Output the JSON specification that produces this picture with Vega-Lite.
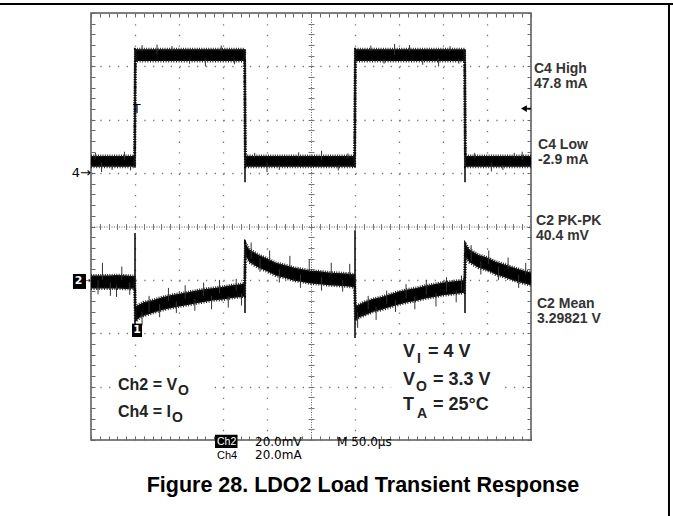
{
  "$schema": "https://vega.github.io/schema/vega-lite/v6.json",
  "width": 440,
  "height": 427,
  "autosize": {"type": "none"},
  "padding": {"left": 91, "top": 13, "right": 142, "bottom": 76},
  "background": "white",
  "config": {"view": {"stroke": "#555", "strokeWidth": 1.5}},
  "datasets": {
    "trace": [
      {"t":0,"i_lo":1.12,"i_hi":1.32,"v_lo":-1.16,"v_hi":-0.92},
      {"t":10,"i_lo":1.12,"i_hi":1.32,"v_lo":-1.16,"v_hi":-0.92},
      {"t":20,"i_lo":1.12,"i_hi":1.32,"v_lo":-1.16,"v_hi":-0.92},
      {"t":30,"i_lo":1.12,"i_hi":1.32,"v_lo":-1.16,"v_hi":-0.91},
      {"t":40,"i_lo":1.12,"i_hi":1.32,"v_lo":-1.17,"v_hi":-0.92},
      {"t":49.5,"i_lo":1.12,"i_hi":1.32,"v_lo":-1.16,"v_hi":-0.93},
      {"t":50.5,"i_lo":3.10,"i_hi":3.32,"v_lo":-1.78,"v_hi":-1.50},
      {"t":55,"i_lo":3.10,"i_hi":3.32,"v_lo":-1.71,"v_hi":-1.46},
      {"t":60,"i_lo":3.10,"i_hi":3.32,"v_lo":-1.67,"v_hi":-1.42},
      {"t":70,"i_lo":3.10,"i_hi":3.32,"v_lo":-1.62,"v_hi":-1.38},
      {"t":80,"i_lo":3.10,"i_hi":3.32,"v_lo":-1.57,"v_hi":-1.33},
      {"t":90,"i_lo":3.10,"i_hi":3.32,"v_lo":-1.53,"v_hi":-1.29},
      {"t":100,"i_lo":3.10,"i_hi":3.32,"v_lo":-1.50,"v_hi":-1.26},
      {"t":110,"i_lo":3.10,"i_hi":3.32,"v_lo":-1.47,"v_hi":-1.23},
      {"t":120,"i_lo":3.10,"i_hi":3.32,"v_lo":-1.44,"v_hi":-1.20},
      {"t":130,"i_lo":3.10,"i_hi":3.32,"v_lo":-1.41,"v_hi":-1.17},
      {"t":140,"i_lo":3.10,"i_hi":3.32,"v_lo":-1.38,"v_hi":-1.15},
      {"t":150,"i_lo":3.10,"i_hi":3.32,"v_lo":-1.37,"v_hi":-1.13},
      {"t":160,"i_lo":3.10,"i_hi":3.32,"v_lo":-1.34,"v_hi":-1.10},
      {"t":170,"i_lo":3.10,"i_hi":3.32,"v_lo":-1.32,"v_hi":-1.08},
      {"t":174.5,"i_lo":3.10,"i_hi":3.32,"v_lo":-1.31,"v_hi":-1.07},
      {"t":175.5,"i_lo":1.12,"i_hi":1.32,"v_lo":-0.54,"v_hi":-0.32},
      {"t":180,"i_lo":1.12,"i_hi":1.32,"v_lo":-0.67,"v_hi":-0.43},
      {"t":190,"i_lo":1.12,"i_hi":1.32,"v_lo":-0.77,"v_hi":-0.53},
      {"t":200,"i_lo":1.12,"i_hi":1.32,"v_lo":-0.84,"v_hi":-0.60},
      {"t":210,"i_lo":1.12,"i_hi":1.32,"v_lo":-0.92,"v_hi":-0.68},
      {"t":220,"i_lo":1.12,"i_hi":1.32,"v_lo":-0.96,"v_hi":-0.72},
      {"t":230,"i_lo":1.12,"i_hi":1.32,"v_lo":-1.01,"v_hi":-0.77},
      {"t":240,"i_lo":1.12,"i_hi":1.32,"v_lo":-1.04,"v_hi":-0.80},
      {"t":250,"i_lo":1.12,"i_hi":1.32,"v_lo":-1.07,"v_hi":-0.83},
      {"t":260,"i_lo":1.12,"i_hi":1.32,"v_lo":-1.08,"v_hi":-0.84},
      {"t":270,"i_lo":1.12,"i_hi":1.32,"v_lo":-1.10,"v_hi":-0.86},
      {"t":280,"i_lo":1.12,"i_hi":1.32,"v_lo":-1.11,"v_hi":-0.87},
      {"t":290,"i_lo":1.12,"i_hi":1.32,"v_lo":-1.12,"v_hi":-0.88},
      {"t":299.5,"i_lo":1.12,"i_hi":1.32,"v_lo":-1.14,"v_hi":-0.90},
      {"t":300.5,"i_lo":3.10,"i_hi":3.32,"v_lo":-1.76,"v_hi":-1.49},
      {"t":305,"i_lo":3.10,"i_hi":3.32,"v_lo":-1.70,"v_hi":-1.46},
      {"t":310,"i_lo":3.10,"i_hi":3.32,"v_lo":-1.67,"v_hi":-1.42},
      {"t":320,"i_lo":3.10,"i_hi":3.32,"v_lo":-1.60,"v_hi":-1.36},
      {"t":330,"i_lo":3.10,"i_hi":3.32,"v_lo":-1.56,"v_hi":-1.32},
      {"t":340,"i_lo":3.10,"i_hi":3.32,"v_lo":-1.51,"v_hi":-1.27},
      {"t":350,"i_lo":3.10,"i_hi":3.32,"v_lo":-1.46,"v_hi":-1.22},
      {"t":360,"i_lo":3.10,"i_hi":3.32,"v_lo":-1.42,"v_hi":-1.18},
      {"t":370,"i_lo":3.10,"i_hi":3.32,"v_lo":-1.39,"v_hi":-1.15},
      {"t":380,"i_lo":3.10,"i_hi":3.32,"v_lo":-1.35,"v_hi":-1.11},
      {"t":390,"i_lo":3.10,"i_hi":3.32,"v_lo":-1.32,"v_hi":-1.08},
      {"t":400,"i_lo":3.10,"i_hi":3.32,"v_lo":-1.29,"v_hi":-1.05},
      {"t":410,"i_lo":3.10,"i_hi":3.32,"v_lo":-1.27,"v_hi":-1.03},
      {"t":420,"i_lo":3.10,"i_hi":3.32,"v_lo":-1.25,"v_hi":-1.01},
      {"t":424.5,"i_lo":3.10,"i_hi":3.32,"v_lo":-1.24,"v_hi":-1.00},
      {"t":425.5,"i_lo":1.12,"i_hi":1.32,"v_lo":-0.56,"v_hi":-0.33},
      {"t":430,"i_lo":1.12,"i_hi":1.32,"v_lo":-0.67,"v_hi":-0.43},
      {"t":440,"i_lo":1.12,"i_hi":1.32,"v_lo":-0.77,"v_hi":-0.53},
      {"t":450,"i_lo":1.12,"i_hi":1.32,"v_lo":-0.82,"v_hi":-0.58},
      {"t":460,"i_lo":1.12,"i_hi":1.32,"v_lo":-0.90,"v_hi":-0.66},
      {"t":470,"i_lo":1.12,"i_hi":1.32,"v_lo":-0.95,"v_hi":-0.71},
      {"t":480,"i_lo":1.12,"i_hi":1.32,"v_lo":-1.01,"v_hi":-0.77},
      {"t":490,"i_lo":1.12,"i_hi":1.32,"v_lo":-1.06,"v_hi":-0.82},
      {"t":500,"i_lo":1.12,"i_hi":1.32,"v_lo":-1.10,"v_hi":-0.86}
    ],
    "edges": [
      {"t":50,"lo":1.10,"hi":3.34},{"t":175,"lo":0.83,"hi":3.32},{"t":300,"lo":1.10,"hi":3.33},{"t":425,"lo":0.83,"hi":3.32},
      {"t":50,"lo":-2.03,"hi":-0.12},{"t":175,"lo":-1.62,"hi":-0.25},{"t":300,"lo":-2.09,"hi":-0.07},{"t":425,"lo":-1.62,"hi":-0.33}
    ],
    "spikes": [
      {"t":8,"lo":-1.27,"hi":-1.0},{"t":13,"lo":-1.0,"hi":-0.68},{"t":22,"lo":-1.30,"hi":-1.05},{"t":29,"lo":-1.32,"hi":-1.1},{"t":35,"lo":-1.0,"hi":-0.75},{"t":44,"lo":-1.28,"hi":-1.05},
      {"t":58,"lo":-1.85,"hi":-1.6},{"t":66,"lo":-1.6,"hi":-1.3},{"t":78,"lo":-1.70,"hi":-1.45},{"t":88,"lo":-1.4,"hi":-1.15},{"t":97,"lo":-1.62,"hi":-1.40},{"t":107,"lo":-1.35,"hi":-1.10},{"t":118,"lo":-1.58,"hi":-1.35},{"t":128,"lo":-1.3,"hi":-1.05},{"t":137,"lo":-1.55,"hi":-1.30},{"t":146,"lo":-1.25,"hi":-1.0},{"t":156,"lo":-1.52,"hi":-1.3},{"t":165,"lo":-1.2,"hi":-0.98},{"t":171,"lo":-1.48,"hi":-1.25},
      {"t":182,"lo":-0.6,"hi":-0.3},{"t":192,"lo":-0.85,"hi":-0.6},{"t":203,"lo":-0.65,"hi":-0.45},{"t":214,"lo":-1.05,"hi":-0.8},{"t":226,"lo":-0.75,"hi":-0.55},{"t":238,"lo":-1.15,"hi":-0.9},{"t":248,"lo":-0.85,"hi":-0.62},{"t":262,"lo":-1.2,"hi":-0.95},{"t":273,"lo":-0.9,"hi":-0.68},{"t":286,"lo":-1.22,"hi":-1.0},{"t":294,"lo":-0.92,"hi":-0.7},
      {"t":303,"lo":-1.9,"hi":-1.6},{"t":315,"lo":-1.55,"hi":-1.3},{"t":324,"lo":-1.75,"hi":-1.5},{"t":336,"lo":-1.45,"hi":-1.2},{"t":346,"lo":-1.6,"hi":-1.38},{"t":358,"lo":-1.35,"hi":-1.08},{"t":368,"lo":-1.55,"hi":-1.3},{"t":381,"lo":-1.28,"hi":-1.0},{"t":392,"lo":-1.5,"hi":-1.25},{"t":404,"lo":-1.22,"hi":-0.95},{"t":415,"lo":-1.42,"hi":-1.2},{"t":421,"lo":-1.2,"hi":-0.92},
      {"t":432,"lo":-0.65,"hi":-0.35},{"t":443,"lo":-0.9,"hi":-0.65},{"t":452,"lo":-0.7,"hi":-0.45},{"t":463,"lo":-1.0,"hi":-0.75},{"t":474,"lo":-0.8,"hi":-0.58},{"t":486,"lo":-1.15,"hi":-0.9},{"t":494,"lo":-0.9,"hi":-0.68},
      {"t":12,"lo":1.02,"hi":1.2},{"t":38,"lo":1.25,"hi":1.40},{"t":75,"lo":3.22,"hi":3.41},{"t":130,"lo":3.0,"hi":3.15},{"t":200,"lo":1.02,"hi":1.2},{"t":262,"lo":1.25,"hi":1.42},{"t":345,"lo":3.22,"hi":3.42},{"t":395,"lo":3.0,"hi":3.15},{"t":455,"lo":1.03,"hi":1.2},{"t":490,"lo":1.25,"hi":1.40},
      {"t":58,"lo":3.28,"hi":3.40},{"t":92,"lo":3.28,"hi":3.38},{"t":112,"lo":3.05,"hi":3.14},{"t":148,"lo":3.28,"hi":3.39},{"t":163,"lo":3.04,"hi":3.13},{"t":318,"lo":3.28,"hi":3.39},{"t":333,"lo":3.05,"hi":3.13},{"t":362,"lo":3.28,"hi":3.40},{"t":377,"lo":3.03,"hi":3.13},{"t":408,"lo":3.28,"hi":3.38},{"t":418,"lo":3.05,"hi":3.13},
      {"t":5,"lo":1.28,"hi":1.38},{"t":24,"lo":1.06,"hi":1.15},{"t":45,"lo":1.05,"hi":1.15},{"t":186,"lo":1.28,"hi":1.38},{"t":214,"lo":1.06,"hi":1.15},{"t":236,"lo":1.28,"hi":1.39},{"t":281,"lo":1.05,"hi":1.14},{"t":292,"lo":1.28,"hi":1.37},{"t":436,"lo":1.28,"hi":1.38},{"t":468,"lo":1.06,"hi":1.15},{"t":481,"lo":1.28,"hi":1.38}
    ],
    "whiteBoxes": [
      {"t":24,"t2":137.5,"v":-2.72,"v2":-3.85},
      {"t":341,"t2":465,"v":-2.1,"v2":-3.85}
    ],
    "blackBoxes": [
      {"t":-20.5,"t2":-5.7,"v":-0.89,"v2":-1.17},
      {"t":46.6,"t2":58,"v":-1.82,"v2":-2.07},
      {"t":140.9,"t2":166.5,"v":-3.90,"v2":-4.15}
    ],
    "frame": [
      {"t":-104,"t2":662,"v":4.169,"v2":4.169},
      {"t":656.8,"t2":656.8,"v":4.169,"v2":-5.43}
    ],
    "notes": [
      {"t":503.4,"v":2.881,"label":"C4 High"},{"t":503.4,"v":2.589,"label":"47.8 mA"},
      {"t":508,"v":1.452,"label":"C4 Low"},{"t":508,"v":1.171,"label":"-2.9 mA"},
      {"t":505.7,"v":0.028,"label":"C2 PK-PK"},{"t":505.7,"v":-0.253,"label":"40.4 mV"},
      {"t":506.8,"v":-1.527,"label":"C2 Mean"},{"t":506.8,"v":-1.808,"label":"3.29821 V"}
    ],
    "leftBig": [
      {"t":30.7,"v":-3.063,"label":"Ch2 = V"},{"t":30.7,"v":-3.569,"label":"Ch4 = I"}
    ],
    "leftSub": [
      {"t":99,"v":-3.157,"label":"O"},{"t":92,"v":-3.663,"label":"O"}
    ],
    "rightBig": [
      {"t":354.5,"v":-2.445,"label":"V"},{"t":383,"v":-2.445,"label":"= 4 V"},
      {"t":354.5,"v":-2.97,"label":"V"},{"t":388.6,"v":-2.97,"label":"= 3.3 V"},
      {"t":354.5,"v":-3.438,"label":"T"},{"t":388.6,"v":-3.438,"label":"= 25°C"}
    ],
    "rightSub": [
      {"t":370.5,"v":-2.557,"label":"I"},{"t":369.3,"v":-3.082,"label":"O"},{"t":370.5,"v":-3.588,"label":"A"}
    ],
    "scopeVals": [
      {"t":186.4,"v":-4.11,"label":"20.0mV"},{"t":279.5,"v":-4.11,"label":"M 50.0µs"},{"t":186.4,"v":-4.356,"label":"20.0mA"}
    ],
    "title": [
      {"t":309,"v":-4.974,"label":"Figure 28. LDO2 Load Transient Response"}
    ]
  },
  "layer": [
    {
      "data": {"name": "whiteBoxes"},
      "mark": {"type": "rect", "color": "white"},
      "encoding": {
        "x": {"field": "t", "type": "quantitative", "scale": {"domain": [0, 500], "nice": false, "zero": false},
              "axis": {"orient": "bottom", "values": [0,10,20,30,40,50,60,70,80,90,100,110,120,130,140,150,160,170,180,190,200,210,220,230,240,250,260,270,280,290,300,310,320,330,340,350,360,370,380,390,400,410,420,430,440,450,460,470,480,490,500], "tickSize": -4, "tickColor": "#666", "labels": false, "domain": false, "grid": false, "title": null}},
        "x2": {"field": "t2"},
        "y": {"field": "v", "type": "quantitative", "scale": {"domain": [-4, 4], "nice": false, "zero": false},
              "axis": {"orient": "left", "values": [-4,-3.8,-3.6,-3.4,-3.2,-3,-2.8,-2.6,-2.4,-2.2,-2,-1.8,-1.6,-1.4,-1.2,-1,-0.8,-0.6,-0.4,-0.2,0,0.2,0.4,0.6,0.8,1,1.2,1.4,1.6,1.8,2,2.2,2.4,2.6,2.8,3,3.2,3.4,3.6,3.8,4], "tickSize": -4, "tickColor": "#666", "labels": false, "domain": false, "grid": false, "title": null}},
        "y2": {"field": "v2"}
      }
    },
    {
      "data": {"name": "trace"},
      "mark": {"type": "area", "color": "black", "opacity": 1},
      "encoding": {
        "x": {"field": "t", "type": "quantitative", "scale": {"domain": [0, 500], "nice": false, "zero": false},
              "axis": {"orient": "bottom", "values": [50,100,150,200,300,350,400,450], "ticks": false, "labels": false, "domain": false, "grid": true, "gridColor": "#777", "gridWidth": 1.3, "gridDash": [1.3, 9.375], "title": null}},
        "y": {"field": "i_hi", "type": "quantitative", "scale": {"domain": [-4, 4], "nice": false, "zero": false},
              "axis": {"orient": "left", "values": [-3,-2,-1,1,2,3], "ticks": false, "labels": false, "domain": false, "grid": true, "gridColor": "#777", "gridWidth": 1.3, "gridDash": [1.3, 7.5], "title": null}},
        "y2": {"field": "i_lo"}
      }
    },
    {
      "data": {"name": "trace"},
      "mark": {"type": "area", "color": "black", "opacity": 1},
      "encoding": {
        "x": {"field": "t", "type": "quantitative", "scale": {"domain": [0, 500], "nice": false, "zero": false},
              "axis": {"orient": "top", "values": [0,10,20,30,40,50,60,70,80,90,100,110,120,130,140,150,160,170,180,190,200,210,220,230,240,250,260,270,280,290,300,310,320,330,340,350,360,370,380,390,400,410,420,430,440,450,460,470,480,490,500], "tickSize": -4, "tickColor": "#666", "labels": false, "domain": false, "grid": false, "title": null}},
        "y": {"field": "v_hi", "type": "quantitative", "scale": {"domain": [-4, 4], "nice": false, "zero": false},
              "axis": {"orient": "right", "values": [-4,-3.8,-3.6,-3.4,-3.2,-3,-2.8,-2.6,-2.4,-2.2,-2,-1.8,-1.6,-1.4,-1.2,-1,-0.8,-0.6,-0.4,-0.2,0,0.2,0.4,0.6,0.8,1,1.2,1.4,1.6,1.8,2,2.2,2.4,2.6,2.8,3,3.2,3.4,3.6,3.8,4], "tickSize": -4, "tickColor": "#666", "labels": false, "domain": false, "grid": false, "title": null}},
        "y2": {"field": "v_lo"}
      }
    },
    {
      "data": {"name": "trace"},
      "mark": {"type": "line", "color": "#222", "strokeWidth": 3, "strokeDash": [1, 1.3]},
      "encoding": {
        "x": {"field": "t", "type": "quantitative", "scale": {"domain": [0, 500], "nice": false, "zero": false}, "axis": null},
        "y": {"field": "i_hi", "type": "quantitative", "scale": {"domain": [-4, 4], "nice": false, "zero": false}, "axis": null}
      }
    },
    {
      "data": {"name": "trace"},
      "mark": {"type": "line", "color": "#222", "strokeWidth": 3, "strokeDash": [1, 1.6]},
      "encoding": {
        "x": {"field": "t", "type": "quantitative", "scale": {"domain": [0, 500], "nice": false, "zero": false}, "axis": null},
        "y": {"field": "i_lo", "type": "quantitative", "scale": {"domain": [-4, 4], "nice": false, "zero": false}, "axis": null}
      }
    },
    {
      "data": {"name": "trace"},
      "mark": {"type": "line", "color": "#222", "strokeWidth": 3, "strokeDash": [1, 1.3]},
      "encoding": {
        "x": {"field": "t", "type": "quantitative", "scale": {"domain": [0, 500], "nice": false, "zero": false}, "axis": null},
        "y": {"field": "v_hi", "type": "quantitative", "scale": {"domain": [-4, 4], "nice": false, "zero": false}, "axis": null}
      }
    },
    {
      "data": {"name": "trace"},
      "mark": {"type": "line", "color": "#222", "strokeWidth": 3, "strokeDash": [1, 1.6]},
      "encoding": {
        "x": {"field": "t", "type": "quantitative", "scale": {"domain": [0, 500], "nice": false, "zero": false}, "axis": null},
        "y": {"field": "v_lo", "type": "quantitative", "scale": {"domain": [-4, 4], "nice": false, "zero": false}, "axis": null}
      }
    },
    {
      "data": {"name": "spikes"},
      "mark": {"type": "rule", "color": "#333", "strokeWidth": 1},
      "encoding": {
        "x": {"field": "t", "type": "quantitative", "scale": {"domain": [0, 500], "nice": false, "zero": false},
              "axis": {"orient": "bottom", "offset": -213.5, "values": [0,10,20,30,40,50,60,70,80,90,100,110,120,130,140,150,160,170,180,190,200,210,220,230,240,250,260,270,280,290,300,310,320,330,340,350,360,370,380,390,400,410,420,430,440,450,460,470,480,490,500], "tickSize": 3, "tickColor": "#777", "labels": false, "domain": true, "domainColor": "#666", "domainDash": [1, 1.5], "domainWidth": 1, "grid": false, "title": null}},
        "y": {"field": "lo", "type": "quantitative", "scale": {"domain": [-4, 4], "nice": false, "zero": false},
              "axis": {"orient": "left", "offset": -220, "values": [-4,-3.8,-3.6,-3.4,-3.2,-3,-2.8,-2.6,-2.4,-2.2,-2,-1.8,-1.6,-1.4,-1.2,-1,-0.8,-0.6,-0.4,-0.2,0,0.2,0.4,0.6,0.8,1,1.2,1.4,1.6,1.8,2,2.2,2.4,2.6,2.8,3,3.2,3.4,3.6,3.8,4], "tickSize": 3, "tickColor": "#777", "labels": false, "domain": true, "domainColor": "#666", "domainDash": [1, 1.5], "domainWidth": 1, "grid": false, "title": null}},
        "y2": {"field": "hi"}
      }
    },
    {
      "data": {"name": "edges"},
      "mark": {"type": "rule", "color": "black", "strokeWidth": 1.5},
      "encoding": {
        "x": {"field": "t", "type": "quantitative", "scale": {"domain": [0, 500], "nice": false, "zero": false},
              "axis": {"orient": "top", "offset": -213.5, "values": [0,10,20,30,40,50,60,70,80,90,100,110,120,130,140,150,160,170,180,190,200,210,220,230,240,250,260,270,280,290,300,310,320,330,340,350,360,370,380,390,400,410,420,430,440,450,460,470,480,490,500], "tickSize": 3, "tickColor": "#777", "labels": false, "domain": false, "grid": false, "title": null}},
        "y": {"field": "lo", "type": "quantitative", "scale": {"domain": [-4, 4], "nice": false, "zero": false},
              "axis": {"orient": "right", "offset": -220, "values": [-4,-3.8,-3.6,-3.4,-3.2,-3,-2.8,-2.6,-2.4,-2.2,-2,-1.8,-1.6,-1.4,-1.2,-1,-0.8,-0.6,-0.4,-0.2,0,0.2,0.4,0.6,0.8,1,1.2,1.4,1.6,1.8,2,2.2,2.4,2.6,2.8,3,3.2,3.4,3.6,3.8,4], "tickSize": 3, "tickColor": "#777", "labels": false, "domain": false, "grid": false, "title": null}},
        "y2": {"field": "hi"}
      }
    },
    {
      "data": {"name": "blackBoxes"},
      "mark": {"type": "rect", "color": "black"},
      "encoding": {
        "x": {"field": "t", "type": "quantitative", "scale": {"domain": [0, 500], "nice": false, "zero": false}, "axis": null},
        "x2": {"field": "t2"},
        "y": {"field": "v", "type": "quantitative", "scale": {"domain": [-4, 4], "nice": false, "zero": false}, "axis": null},
        "y2": {"field": "v2"}
      }
    },
    {
      "data": {"name": "frame"},
      "mark": {"type": "rule", "color": "black", "strokeWidth": 2},
      "encoding": {
        "x": {"field": "t", "type": "quantitative", "scale": {"domain": [0, 500], "nice": false, "zero": false}, "axis": null},
        "x2": {"field": "t2"},
        "y": {"field": "v", "type": "quantitative", "scale": {"domain": [-4, 4], "nice": false, "zero": false}, "axis": null},
        "y2": {"field": "v2"}
      }
    },
    {
      "data": {"values": [{"t": 491.5, "t2": 500, "v": 2.21}]},
      "mark": {"type": "rule", "color": "black", "strokeWidth": 1.5},
      "encoding": {
        "x": {"field": "t", "type": "quantitative", "scale": {"domain": [0, 500], "nice": false, "zero": false}, "axis": null},
        "x2": {"field": "t2"},
        "y": {"field": "v", "type": "quantitative", "scale": {"domain": [-4, 4], "nice": false, "zero": false}, "axis": null}
      }
    },
    {
      "data": {"values": [{"t": 492, "v": 2.21}]},
      "mark": {"type": "point", "shape": "triangle-left", "filled": true, "color": "black", "size": 45, "opacity": 1},
      "encoding": {
        "x": {"field": "t", "type": "quantitative", "scale": {"domain": [0, 500], "nice": false, "zero": false}, "axis": null},
        "y": {"field": "v", "type": "quantitative", "scale": {"domain": [-4, 4], "nice": false, "zero": false}, "axis": null}
      }
    },
    {
      "data": {"values": [{"t": 52.3, "v": 2.2, "label": "T"}]},
      "mark": {"type": "text", "font": "DejaVu Sans", "fontSize": 12, "align": "center", "baseline": "middle", "color": "black"},
      "encoding": {
        "x": {"field": "t", "type": "quantitative", "scale": {"domain": [0, 500], "nice": false, "zero": false}, "axis": null},
        "y": {"field": "v", "type": "quantitative", "scale": {"domain": [-4, 4], "nice": false, "zero": false}, "axis": null},
        "text": {"field": "label"}
      }
    },
    {
      "data": {"values": [{"t": 0, "v": 1.0, "label": "4→"}]},
      "mark": {"type": "text", "font": "DejaVu Sans", "fontSize": 13, "align": "right", "baseline": "middle", "color": "black"},
      "encoding": {
        "x": {"field": "t", "type": "quantitative", "scale": {"domain": [0, 500], "nice": false, "zero": false}, "axis": null},
        "y": {"field": "v", "type": "quantitative", "scale": {"domain": [-4, 4], "nice": false, "zero": false}, "axis": null},
        "text": {"field": "label"}
      }
    },
    {
      "data": {"values": [{"t": 0, "v": -1.03, "label": "→"}]},
      "mark": {"type": "text", "font": "DejaVu Sans", "fontSize": 8, "align": "right", "baseline": "middle", "color": "black"},
      "encoding": {
        "x": {"field": "t", "type": "quantitative", "scale": {"domain": [0, 500], "nice": false, "zero": false}, "axis": null},
        "y": {"field": "v", "type": "quantitative", "scale": {"domain": [-4, 4], "nice": false, "zero": false}, "axis": null},
        "text": {"field": "label"}
      }
    },
    {
      "data": {"values": [{"t": -14, "v": -1.03, "label": "2"}, {"t": 52.3, "v": -1.945, "label": "1"}]},
      "mark": {"type": "text", "font": "DejaVu Sans", "fontWeight": "bold", "fontSize": 11, "align": "center", "baseline": "middle", "color": "white"},
      "encoding": {
        "x": {"field": "t", "type": "quantitative", "scale": {"domain": [0, 500], "nice": false, "zero": false}, "axis": null},
        "y": {"field": "v", "type": "quantitative", "scale": {"domain": [-4, 4], "nice": false, "zero": false}, "axis": null},
        "text": {"field": "label"}
      }
    },
    {
      "data": {"name": "notes"},
      "mark": {"type": "text", "font": "Liberation Sans", "fontWeight": "bold", "fontSize": 14, "align": "left", "baseline": "alphabetic", "color": "#333"},
      "encoding": {
        "x": {"field": "t", "type": "quantitative", "scale": {"domain": [0, 500], "nice": false, "zero": false}, "axis": null},
        "y": {"field": "v", "type": "quantitative", "scale": {"domain": [-4, 4], "nice": false, "zero": false}, "axis": null},
        "text": {"field": "label"}
      }
    },
    {
      "data": {"name": "leftBig"},
      "mark": {"type": "text", "font": "Liberation Sans", "fontWeight": "bold", "fontSize": 16, "align": "left", "baseline": "alphabetic", "color": "#222"},
      "encoding": {
        "x": {"field": "t", "type": "quantitative", "scale": {"domain": [0, 500], "nice": false, "zero": false}, "axis": null},
        "y": {"field": "v", "type": "quantitative", "scale": {"domain": [-4, 4], "nice": false, "zero": false}, "axis": null},
        "text": {"field": "label"}
      }
    },
    {
      "data": {"name": "leftSub"},
      "mark": {"type": "text", "font": "Liberation Sans", "fontWeight": "bold", "fontSize": 14, "align": "left", "baseline": "alphabetic", "color": "#222"},
      "encoding": {
        "x": {"field": "t", "type": "quantitative", "scale": {"domain": [0, 500], "nice": false, "zero": false}, "axis": null},
        "y": {"field": "v", "type": "quantitative", "scale": {"domain": [-4, 4], "nice": false, "zero": false}, "axis": null},
        "text": {"field": "label"}
      }
    },
    {
      "data": {"name": "rightBig"},
      "mark": {"type": "text", "font": "Liberation Sans", "fontWeight": "bold", "fontSize": 18, "align": "left", "baseline": "alphabetic", "color": "#222"},
      "encoding": {
        "x": {"field": "t", "type": "quantitative", "scale": {"domain": [0, 500], "nice": false, "zero": false}, "axis": null},
        "y": {"field": "v", "type": "quantitative", "scale": {"domain": [-4, 4], "nice": false, "zero": false}, "axis": null},
        "text": {"field": "label"}
      }
    },
    {
      "data": {"name": "rightSub"},
      "mark": {"type": "text", "font": "Liberation Sans", "fontWeight": "bold", "fontSize": 14, "align": "left", "baseline": "alphabetic", "color": "#222"},
      "encoding": {
        "x": {"field": "t", "type": "quantitative", "scale": {"domain": [0, 500], "nice": false, "zero": false}, "axis": null},
        "y": {"field": "v", "type": "quantitative", "scale": {"domain": [-4, 4], "nice": false, "zero": false}, "axis": null},
        "text": {"field": "label"}
      }
    },
    {
      "data": {"values": [{"t": 143.2, "v": -4.034, "label": "Ch2"}]},
      "mark": {"type": "text", "font": "Liberation Sans", "fontSize": 10.5, "align": "left", "baseline": "middle", "color": "white"},
      "encoding": {
        "x": {"field": "t", "type": "quantitative", "scale": {"domain": [0, 500], "nice": false, "zero": false}, "axis": null},
        "y": {"field": "v", "type": "quantitative", "scale": {"domain": [-4, 4], "nice": false, "zero": false}, "axis": null},
        "text": {"field": "label"}
      }
    },
    {
      "data": {"values": [{"t": 143.2, "v": -4.356, "label": "Ch4"}]},
      "mark": {"type": "text", "font": "Liberation Sans", "fontSize": 11, "align": "left", "baseline": "alphabetic", "color": "black"},
      "encoding": {
        "x": {"field": "t", "type": "quantitative", "scale": {"domain": [0, 500], "nice": false, "zero": false}, "axis": null},
        "y": {"field": "v", "type": "quantitative", "scale": {"domain": [-4, 4], "nice": false, "zero": false}, "axis": null},
        "text": {"field": "label"}
      }
    },
    {
      "data": {"name": "scopeVals"},
      "mark": {"type": "text", "font": "DejaVu Sans", "fontSize": 12, "align": "left", "baseline": "alphabetic", "color": "black"},
      "encoding": {
        "x": {"field": "t", "type": "quantitative", "scale": {"domain": [0, 500], "nice": false, "zero": false}, "axis": null},
        "y": {"field": "v", "type": "quantitative", "scale": {"domain": [-4, 4], "nice": false, "zero": false}, "axis": null},
        "text": {"field": "label"}
      }
    },
    {
      "data": {"name": "title"},
      "mark": {"type": "text", "font": "Liberation Sans", "fontWeight": "bold", "fontSize": 21.5, "align": "center", "baseline": "alphabetic", "color": "black"},
      "encoding": {
        "x": {"field": "t", "type": "quantitative", "scale": {"domain": [0, 500], "nice": false, "zero": false}, "axis": null},
        "y": {"field": "v", "type": "quantitative", "scale": {"domain": [-4, 4], "nice": false, "zero": false}, "axis": null},
        "text": {"field": "label"}
      }
    }
  ],
  "resolve": {"axis": {"x": "independent", "y": "independent"}}
}
